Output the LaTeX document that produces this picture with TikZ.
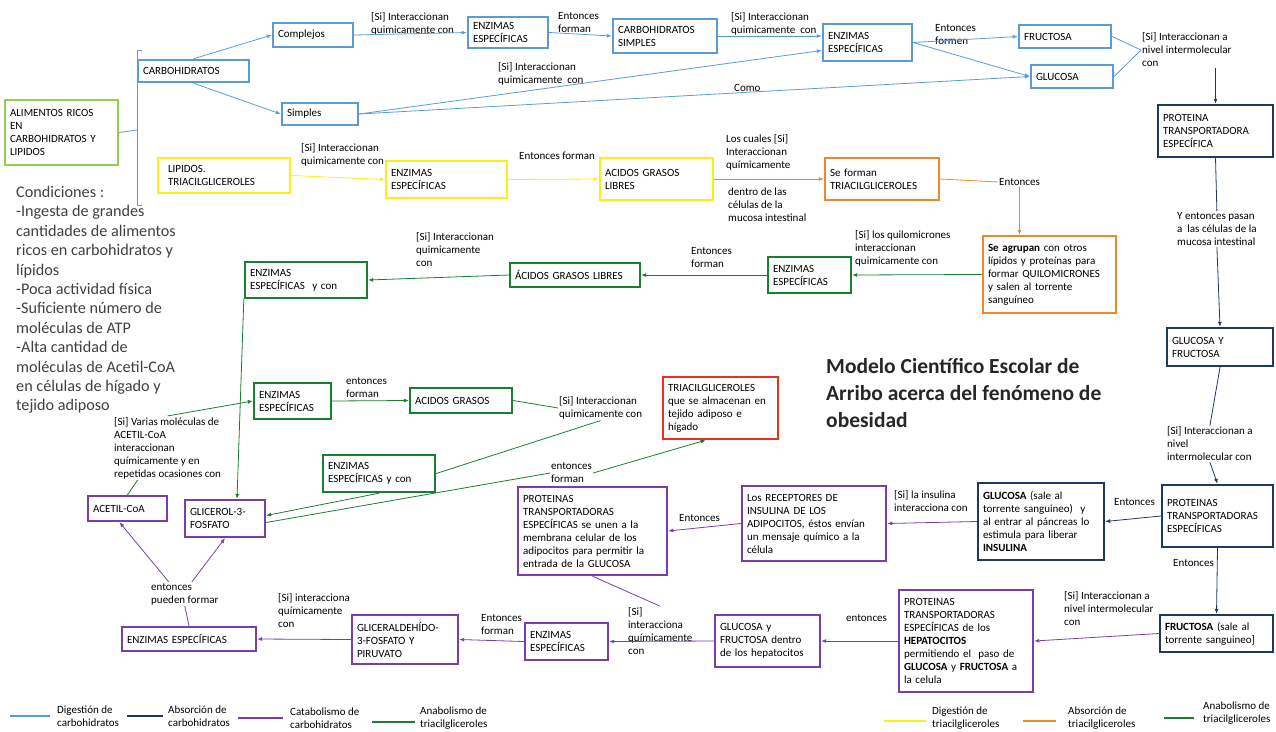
\documentclass[tikz,border=0pt]{standalone}
\usepackage{fontspec}
\setmainfont{Carlito}
\usepackage{xcolor}
\usetikzlibrary{arrows.meta}

\definecolor{cdig}{RGB}{91,155,213}
\definecolor{cabs}{RGB}{31,56,100}
\definecolor{ccat}{RGB}{122,62,172}
\definecolor{tdig}{RGB}{250,240,20}
\definecolor{tabs}{RGB}{240,135,40}
\definecolor{tana}{RGB}{25,125,50}
\definecolor{alimc}{RGB}{146,208,80}
\definecolor{tred}{RGB}{230,50,30}

\begin{document}
\begin{tikzpicture}[
    x=1pt, y=-1pt,
    every node/.style={font=\fontsize{11}{13}\selectfont},
    box/.style={draw, line width=2.4pt, align=left, inner xsep=5pt, inner ysep=2pt},
    cdigbox/.style={box, draw=cdig},
    cabsbox/.style={box, draw=cabs},
    ccatbox/.style={box, draw=ccat},
    tdigbox/.style={box, draw=tdig},
    tabsbox/.style={box, draw=tabs},
    tanabox/.style={box, draw=tana},
    txt/.style={align=left, inner sep=1pt, anchor=west},
    arrow/.style={-{Latex[length=5pt,width=4pt]}, line width=0.8pt},
    conn/.style={line width=0.8pt},
    legline/.style={line width=2.6pt}
]
    \useasboundingbox (0,0) rectangle (1276,731);

    % Alimentos y condiciones
    \node[box, draw=alimc, text width=103pt, minimum height=65pt] (alim) at (61.5,132.5) {ALIMENTOS RICOS\\EN\\CARBOHIDRATOS Y\\LIPIDOS};
    \coordinate (brk) at (137,130);
    \node[anchor=north west, align=left, inner sep=0pt, text=black!75, font=\fontsize{16.2}{19.4}\selectfont] (cond) at (16,186) {Condiciones :\\-Ingesta de grandes\\cantidades de alimentos\\ricos en carbohidratos y\\lípidos\\-Poca actividad física\\-Suficiente número de\\moléculas de ATP\\-Alta cantidad de\\moléculas de Acetil-CoA\\en células de hígado y\\tejido adiposo};
    \node[anchor=north west, align=left, inner sep=0pt, text=black!85, font=\fontsize{21.5}{27}\selectfont\bfseries] (title) at (826,358) {Modelo Científico Escolar de\\Arribo acerca del fenómeno de\\obesidad};

    % Digestion de carbohidratos
    \node[cdigbox, text width=101pt, minimum height=22pt] (carb) at (193.5,71) {CARBOHIDRATOS};
    \node[cdigbox, text width=70pt, minimum height=24pt] (compl) at (313,35) {Complejos};
    \node[cdigbox, text width=66pt, minimum height=22pt] (simp) at (320,114) {Simples};
    \node[cdigbox, text width=70pt, minimum height=31pt] (enz1) at (508,32.5) {ENZIMAS\\ESPECÍFICAS};
    \node[cdigbox, text width=94pt, minimum height=34pt] (csimp) at (665,36) {CARBOHIDRATOS\\SIMPLES};
    \node[cdigbox, text width=79pt, minimum height=37pt] (enz2) at (867.5,42.5) {ENZIMAS\\ESPECÍFICAS};
    \node[cdigbox, text width=82pt, minimum height=23pt] (fruc) at (1065,36.5) {FRUCTOSA};
    \node[cdigbox, text width=72pt, minimum height=23pt] (gluc) at (1072,76.5) {GLUCOSA};
    \node[txt] (l1) at (370,24) {[Si] Interaccionan\\quimicamente con};
    \node[txt] (l2) at (557,23) {Entonces\\forman};
    \node[txt] (l3) at (730,24) {[Si] Interaccionan\\quimicamente\ \ con};
    \node[txt] (l4) at (497,74) {[Si] Interaccionan\\quimicamente\ \ con};
    \node[txt] (l5) at (733,88) {Como};
    \node[txt] (l6) at (934,35) {Entonces\\formen};
    \node[txt] (l7) at (1141,50) {[Si] Interaccionan a\\nivel intermolecular\\con};

    % Absorcion de carbohidratos
    \node[cabsbox, text width=105pt, minimum height=52pt] (prot) at (1215.5,131) {PROTEINA\\TRANSPORTADORA\\ESPECÍFICA};
    \node[cabsbox, text width=96pt, minimum height=38pt] (gyf) at (1220,347) {GLUCOSA Y\\FRUCTOSA};
    \node[cabsbox, text width=101pt, minimum height=62pt] (pte) at (1217.5,516) {PROTEINAS\\TRANSPORTADORAS\\ESPECÍFICAS};
    \node[cabsbox, text width=116pt, minimum height=77pt] (glus) at (1041,521.5) {\textbf{GLUCOSA} (sale al\\torrente sanguineo)\ \ y\\al entrar al páncreas lo\\estimula para liberar\\\textbf{INSULINA}};
    \node[cabsbox, text width=103pt, minimum height=37pt] (fruS) at (1216.5,633.5) {\textbf{FRUCTOSA} (sale al\\torrente sanguineo]};
    \node[txt] (l8) at (1176,229) {Y entonces pasan\\a\ \ las células de la\\mucosa intestinal};
    \node[txt] (l9) at (1166,444) {[Si] Interaccionan a\\nivel\\intermolecular con};
    \node[txt] (l10) at (1113,502) {Entonces};
    \node[txt] (l11) at (1172,563) {Entonces};

    % Catabolismo de carbohidratos
    \node[ccatbox, text width=134pt, minimum height=75pt] (recep) at (814,523.5) {Los RECEPTORES DE\\INSULINA DE LOS\\ADIPOCITOS, éstos envían\\un mensaje químico a la\\célula};
    \node[ccatbox, text width=139pt, minimum height=88pt] (protad) at (592.5,531) {PROTEINAS\\TRANSPORTADORAS\\ESPECÍFICAS se unen a la\\membrana celular de los\\adipocitos para permitir la\\entrada de la GLUCOSA};
    \node[ccatbox, text width=124pt, minimum height=102pt] (prohep) at (966,641) {PROTEINAS\\TRANSPORTADORAS\\ESPECÍFICAS de los\\\textbf{HEPATOCITOS}\\permitiendo el\ \ paso de\\\textbf{GLUCOSA} y \textbf{FRUCTOSA} a\\la celula};
    \node[ccatbox, text width=95pt, minimum height=52pt] (gfhep) at (767.5,641) {GLUCOSA y\\FRUCTOSA dentro\\de los hepatocitos};
    \node[ccatbox, text width=73pt, minimum height=37pt] (enzlow) at (566.5,641.5) {ENZIMAS\\ESPECÍFICAS};
    \node[ccatbox, text width=96pt, minimum height=49pt] (glipir) at (405,639.5) {GLICERALDEHÍDO-\\3-FOSFATO Y\\PIRUVATO};
    \node[ccatbox, text width=124pt, minimum height=24pt] (enzll) at (189,639) {ENZIMAS ESPECÍFICAS};
    \node[ccatbox, text width=69pt, minimum height=25pt] (acetil) at (127.5,508.5) {ACETIL-CoA};
    \node[ccatbox, text width=70pt, minimum height=37pt] (g3p) at (225,518.5) {GLICEROL-3-\\FOSFATO};
    \node[txt] (l12) at (893,501) {[Si] la insulina\\interacciona con};
    \node[txt] (l13) at (678,518) {Entonces};
    \node[txt] (l14) at (1063,609) {[Si] Interaccionan a\\nivel intermolecular\\con};
    \node[txt] (l15) at (845,618) {entonces};
    \node[txt] (l16) at (627,631) {[Si]\\interacciona\\químicamente\\con};
    \node[txt] (l17) at (480,625) {Entonces\\forman};
    \node[txt] (l18) at (277,611) {[Si] interacciona\\químicamente\\con};
    \node[txt] (l19) at (150,594) {entonces\\pueden formar};

    % Digestion y absorcion de triacilgliceroles
    \node[tdigbox, text width=112pt, inner xsep=10pt, minimum height=35pt] (lipt) at (224,175.5) {LIPIDOS.\\TRIACILGLICEROLES};
    \node[tdigbox, text width=111pt, minimum height=37pt] (enzy) at (446.5,179.5) {ENZIMAS\\ESPECÍFICAS};
    \node[tdigbox, text width=103pt, minimum height=42pt] (agly) at (656.5,179) {ACIDOS GRASOS\\LIBRES};
    \node[tabsbox, text width=104pt, minimum height=42pt] (sefor) at (882,179) {Se forman\\TRIACILGLICEROLES};
    \node[tabsbox, text width=123pt, minimum height=77pt] (agrup) at (1049.5,274.5) {\textbf{Se agrupan} con otros\\lípidos y proteínas para\\formar QUILOMICRONES\\y salen al torrente\\sanguíneo};
    \node[txt] (l27) at (300,155) {[Si] Interaccionan\\quimicamente con};
    \node[txt] (l28) at (518,156) {Entonces forman};
    \node[txt] (l29) at (725,152) {Los cuales [Si]\\Interaccionan\\químicamente};
    \node[txt] (l30) at (727,205) {dentro de las\\células de la\\mucosa intestinal};
    \node[txt] (l31) at (998,182) {Entonces};

    % Anabolismo de triacilgliceroles
    \node[tanabox, text width=73pt, minimum height=36pt] (enzsa) at (809.5,275) {ENZIMAS\\ESPECÍFICAS};
    \node[tanabox, text width=120pt, minimum height=24pt] (agl) at (575,275) {ÁCIDOS GRASOS LIBRES};
    \node[tanabox, text width=112pt, minimum height=36pt] (enzyc1) at (306,280) {ENZIMAS\\ESPECÍFICAS\ \ y con};
    \node[tanabox, text width=67pt, minimum height=36pt] (enzac) at (292.5,401) {ENZIMAS\\ESPECÍFICAS};
    \node[tanabox, text width=92pt, minimum height=25pt] (acgr) at (461,400.5) {ACIDOS GRASOS};
    \node[tanabox, text width=102pt, minimum height=37pt] (enzyc2) at (379,473.5) {ENZIMAS\\ESPECÍFICAS y con};
    \node[box, draw=tred, text width=105pt, minimum height=62pt] (triac) at (720.5,408) {TRIACILGLICEROLES\\que se almacenan en\\tejido adiposo e\\hígado};
    \node[txt] (l20) at (113,448) {[Si] Varias moléculas de\\ACETIL-CoA\\interaccionan\\químicamente y en\\repetidas ocasiones con};
    \node[txt] (l21) at (345,388) {entonces\\forman};
    \node[txt] (l22) at (558,408) {[Si] Interaccionan\\quimicamente con};
    \node[txt] (l23) at (550,473) {entonces\\forman};
    \node[txt] (l24) at (690,258) {Entonces\\forman};
    \node[txt] (l25) at (415,250) {[Si] Interaccionan\\quimicamente\\con};
    \node[txt] (l26) at (854,248) {[Si] los quilomicrones\\interaccionan\\quimicamente con};

    % Connectors: carbohidratos
    \draw[conn, cdig] (alim.east) -- (brk);
    \draw[conn, cdig] (142,50) -- (137,50) -- (137,205) -- (142,205);
    \draw[arrow, cdig] (carb.north) -- (compl.west);
    \draw[arrow, cdig] (carb.south) -- (simp.west);
    \draw[arrow, cdig] (compl.east) -- (enz1.west);
    \draw[arrow, cdig] (enz1.east) -- (csimp.west);
    \draw[arrow, cdig] (csimp.east) -- (csimp.east -| enz2.west);
    \draw[arrow, cdig] (simp.east) -- ([yshift=-8pt]enz2.west);
    \draw[arrow, cdig] (simp.east) -- (gluc.west);
    \draw[arrow, cdig] (enz2.east) -- (fruc.west);
    \draw[arrow, cdig] (enz2.east) -- (gluc.west);
    \draw[conn, cdig] (fruc.east) -- (l7.west);
    \draw[conn, cdig] (gluc.east) -- (l7.west);

    \draw[arrow, cabs] (prot.north |- l7.south) -- (prot.north);
    \draw[conn, cabs] (prot.south) -- (l8.north);
    \draw[arrow, cabs] (l8.south) -- (gyf.north);
    \draw[conn, cabs] (gyf.south) -- (l9.north);
    \draw[arrow, cabs] (l9.south) -- (pte.north);
    \draw[arrow, cabs] (pte.west) -- (glus.east);
    \draw[arrow, cabs] (pte.south) -- (fruS.north);

    \draw[arrow, ccat] (glus.west) -- (recep.east);
    \draw[arrow, ccat] (recep.west) -- (protad.east);
    \draw[conn, ccat] (protad.south) -- (l16.north);
    \draw[arrow, ccat] (fruS.west) -- (prohep.east);
    \draw[arrow, ccat] (prohep.west) -- (gfhep.east);
    \draw[arrow, ccat] (gfhep.west) -- (enzlow.east);
    \draw[arrow, ccat] (enzlow.west) -- (glipir.east);
    \draw[arrow, ccat] (glipir.west) -- (enzll.east);
    \draw[conn, ccat] (enzll.north) -- (l19.south);
    \draw[arrow, ccat] ([xshift=-16pt]l19.north) -- ([xshift=-8pt]acetil.south);
    \draw[arrow, ccat] ([xshift=7pt]l19.north) -- (g3p.south);

    % Connectors: triacilgliceroles
    \draw[arrow, tdig] (lipt.east) -- (enzy.west);
    \draw[arrow, tdig] (enzy.east) -- (agly.west);
    \draw[arrow, tabs] (agly.east) -- (sefor.west);
    \draw[conn, tabs] (sefor.east) -- (l31.west);
    \draw[arrow, tabs] (l31.south) -- (l31.south |- agrup.north);

    \draw[arrow, tana] (agrup.west) -- (enzsa.east);
    \draw[arrow, tana] (enzsa.west) -- (agl.east);
    \draw[arrow, tana] (agl.west) -- (enzyc1.east);
    \draw[arrow, tana] (enzyc1.south west) -- ([xshift=12pt]g3p.north);
    \draw[conn, tana] (acetil.north) -- ([xshift=-30pt]l20.south);
    \draw[arrow, tana] (l20.north) -- (enzac.west);
    \draw[arrow, tana] (enzac.east) -- (acgr.west);
    \draw[conn, tana] (acgr.east) -- (l22.west);
    \draw[conn, tana] (l22.south) -- (enzyc2.east);
    \draw[arrow, tana] (enzyc2.south) -- ([yshift=3pt]g3p.east);
    \draw[conn, tana] ([yshift=-4pt]g3p.east) -- (l23.west);
    \draw[arrow, tana] (l23.east) -- ([xshift=-15pt]triac.south);

    % Legend
    \draw[legline, cdig] (10,716) -- (50,716);
    \node[txt] (leg1) at (56,716) {Digestión de\\carbohidratos};
    \draw[legline, cabs] (127,716) -- (163,716);
    \node[txt] (leg2) at (167,716) {Absorción de\\carbohidratos};
    \draw[legline, ccat] (238,718) -- (283,718);
    \node[txt] (leg3) at (289,718) {Catabolismo de\\carbohidratos};
    \draw[legline, tana] (372,722) -- (415,722);
    \node[txt] (leg4) at (419,718) {Anabolismo de\\triacilgliceroles};
    \draw[legline, tdig] (884,721) -- (926,721);
    \node[txt] (leg5) at (931,718) {Digestión de\\triacilgliceroles};
    \draw[legline, tabs] (1023,721) -- (1056,721);
    \node[txt] (leg6) at (1067,718) {Absorción de\\triacilgliceroles};
    \draw[legline, tana] (1164,718) -- (1194,718);
    \node[txt] (leg7) at (1202,713) {Anabolismo de\\triacilgliceroles};

\end{tikzpicture}
\end{document}
